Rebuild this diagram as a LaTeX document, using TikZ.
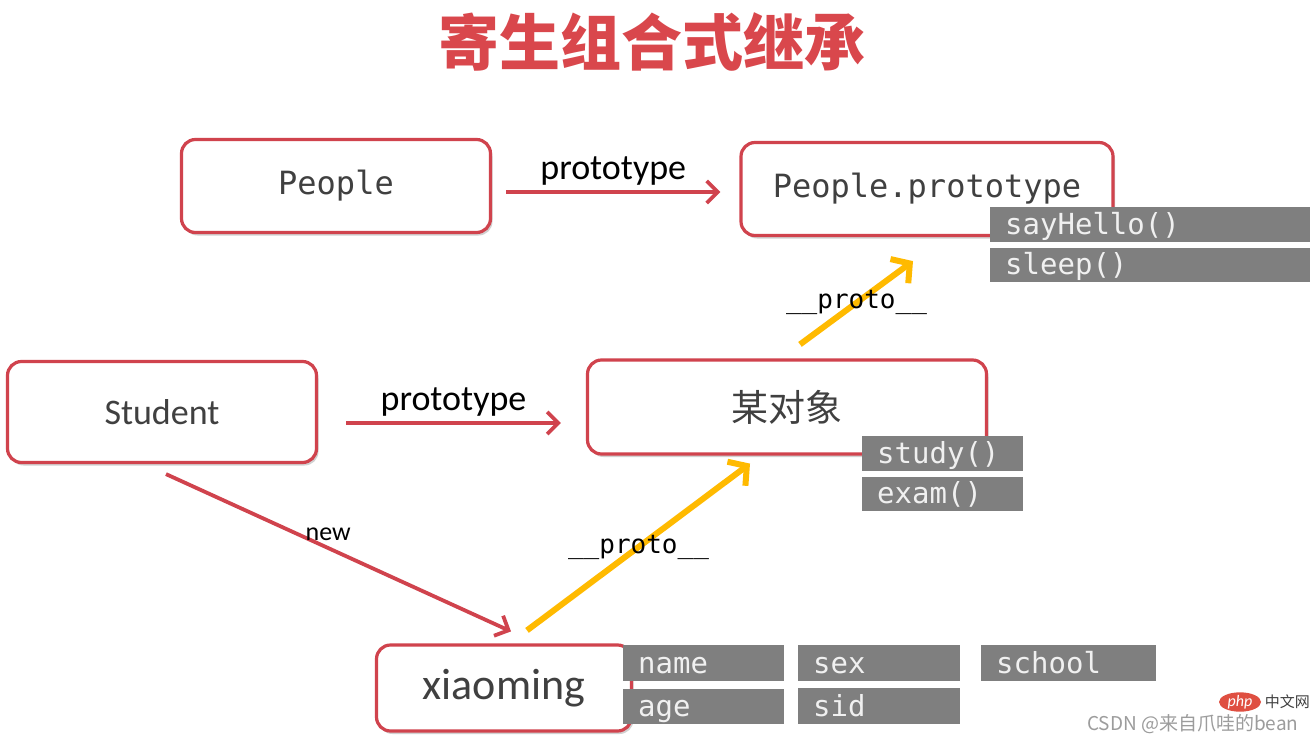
\documentclass[tikz,border=0pt]{standalone}
\usepackage{fontspec}
\setmainfont{Carlito}
\setmonofont{DejaVu Sans Mono}
\newfontfamily\cjkfont{Noto Sans CJK SC}
\usetikzlibrary{arrows.meta,positioning,shadows,shapes.geometric}
\definecolor{TitleRed}{HTML}{D9474C}
\definecolor{BoxRed}{HTML}{D0434D}
\definecolor{ProtoGold}{HTML}{FFBA00}
\definecolor{TagGray}{HTML}{7F7F7F}
\definecolor{Ink}{HTML}{404040}
\definecolor{MarkGray}{HTML}{9C9C9C}
\tikzset{
  class box/.style={draw=BoxRed, fill=white, line width=3.2pt, rounded corners=14pt,
    drop shadow={shadow xshift=2pt, shadow yshift=-3pt, opacity=0.18, fill=black},
    text=Ink, align=center, inner sep=0pt},
  member tag/.style={fill=TagGray, text=white!94!black,
    font=\ttfamily\fontsize{29}{34}\selectfont,
    anchor=north west, align=left, inner xsep=15pt, inner ysep=0pt, minimum height=35pt,
    text height=24pt, text depth=4pt},
  link flow/.style={-{Straight Barb[length=11pt,width=22pt]}, draw=BoxRed, line width=3.8pt},
  proto flow/.style={-{Straight Barb[length=13pt,width=30pt]}, draw=ProtoGold, line width=6pt},
  link label/.style={font=\fontsize{36}{40}\selectfont, text=black},
  proto label/.style={font=\ttfamily\fontsize{26}{30}\selectfont, text=black},
}
\newcommand{\taggap}{5pt}

\begin{document}
\begin{tikzpicture}[x=1pt, y=-1pt]
  \fill[white] (0,0) rectangle (1316,741);
  \useasboundingbox (0,0) rectangle (1316,741);

  \node[font=\cjkfont\bfseries\fontsize{61}{70}\selectfont, text=TitleRed] (title)
    at (652,42) {寄生组合式继承};

  % class boxes
  \node[class box, minimum width=309pt, minimum height=93pt,
    font=\ttfamily\fontsize{32}{38}\selectfont] (people) at (336,186) {People};
  \node[class box, minimum width=372pt, minimum height=93pt,
    font=\ttfamily\fontsize{32}{38}\selectfont] (peopleProto) at (927,189) {People.prototype};
  \node[class box, minimum width=309pt, minimum height=101pt,
    font=\fontsize{36}{40}\selectfont] (student) at (162,412) {Student};
  \node[class box, minimum width=399pt, minimum height=94pt,
    font=\cjkfont\fontsize{37}{42}\selectfont] (someObj) at (787,407) {某对象};
  \node[class box, minimum width=255pt, minimum height=86pt,
    font=\fontsize{44}{48}\selectfont] (xiaoming) at (504,688) {xiaoming};

  % members
  \node[member tag, text width=290pt] (sayHello) at (990,207) {sayHello()};
  \node[member tag, text width=290pt, minimum height=34pt, below=\taggap of sayHello.south west,
    anchor=north west] (sleep) {sleep()};
  \node[member tag, text width=131pt] (study) at (862,436) {study()};
  \node[member tag, text width=131pt, minimum height=34pt, below=\taggap of study.south west,
    anchor=north west] (exam) {exam()};
  \node[member tag, text width=131pt, minimum height=36pt] (nameTag) at (623,645) {name};
  \node[member tag, text width=131pt] (ageTag) at (623,689) {age};
  \node[member tag, text width=132pt, minimum height=36pt] (sexTag) at (798,645) {sex};
  \node[member tag, text width=132pt, minimum height=36pt] (sidTag) at (798,688) {sid};
  \node[member tag, text width=145pt, minimum height=36pt] (schoolTag) at (981,645) {school};

  % links
  \draw[link flow] ([xshift=14pt,yshift=-6pt]people.east) --
    ([xshift=-19pt,yshift=-3pt]peopleProto.west)
    node[link label, midway, above=1pt] (protoLabelA) {prototype};
  \draw[link flow] ([xshift=28pt,yshift=-11pt]student.east) --
    ([xshift=-25pt,yshift=-16pt]someObj.west)
    node[link label, midway, above=1pt] (protoLabelB) {prototype};
  \draw[link flow] ([xshift=4pt,yshift=-10pt]student.south) --
    ([xshift=7pt,yshift=12pt]xiaoming.north)
    node[link label, pos=0.47, above=2pt, font=\fontsize{26}{30}\selectfont] (newLabel) {new};
  \draw[proto flow] ([xshift=23pt,yshift=13pt]xiaoming.north) --
    ([xshift=-37pt,yshift=-8pt]someObj.south)
    node[proto label, midway] (chainLabelA) {\_\_proto\_\_};
  \draw[proto flow] ([xshift=13pt,yshift=14pt]someObj.north) --
    ([xshift=-14pt,yshift=-24pt]peopleProto.south)
    node[proto label, midway] (chainLabelB) {\_\_proto\_\_};

  % watermark
  \node[ellipse, fill=TitleRed!85!orange, text=white, font=\itshape\fontsize{16}{17}\selectfont,
    inner sep=0pt, minimum width=42pt, minimum height=19pt] (phpMark) at (1240,702) {php};
  \node[font=\cjkfont\fontsize{15}{17}\selectfont, text=Ink, anchor=west] (phpSite)
    at (phpMark.east) {中文网};
  \node[font=\cjkfont\fontsize{19}{21}\selectfont, text=MarkGray, anchor=east] (csdnMark)
    at (1302,724) {CSDN @来自爪哇的bean};
\end{tikzpicture}
\end{document}
